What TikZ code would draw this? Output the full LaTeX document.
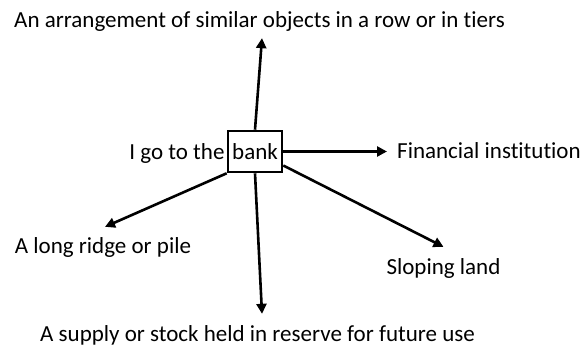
\documentclass[tikz,border=0pt]{standalone}
\usepackage{fontspec}
\setmainfont{Carlito}[Ligatures=NoCommon]
\usepackage{tikz}
\usetikzlibrary{positioning,arrows.meta,calc}

\begin{document}
\begin{tikzpicture}[x=1pt,y=1pt,
   font=\fontsize{23}{27}\selectfont,
   word/.style={draw,line width=2.6pt,minimum width=54pt,minimum height=41pt,inner sep=0pt},
   lbl/.style={inner sep=0pt},
   wire/.style={line width=2.6pt,-{Triangle[length=10pt,width=10pt]}},
]
\useasboundingbox (0,0) rectangle (581,347);
% ----- the sentence
\node[word] (bank) at (255,195.5) {bank};
\node[lbl,anchor=base east] (igo) at ([xshift=-2pt]bank.base -| bank.west) {I go to the};
% ----- senses
\node[lbl,anchor=base] (tiers) at (259.5,319) {An arrangement of similar objects in a row or in tiers};
\node[lbl,anchor=base west] (fin) at (397,188) {Financial institution};
\node[lbl,anchor=base] (ridge) at (103,93) {A long ridge or pile};
\node[lbl,anchor=base] (slope) at (443.5,72) {Sloping land};
\node[lbl,anchor=base] (supply) at (257.5,5) {A supply or stock held in reserve for future use};

% wires
\draw[wire] (bank.north) -- ([shift={(2.5pt,-6pt)}]tiers.south);
\draw[wire] (bank.east) -- ([xshift=-10pt]bank.east -| fin.west);
\draw[wire] (bank.south west) -- ([shift={(2pt,11pt)}]ridge.north);
\draw[wire] ([yshift=-14pt]bank.east) -- ([yshift=12pt]slope.north);
\draw[wire] (bank.south) -- ([shift={(4.5pt,12pt)}]supply.north);
\end{tikzpicture}
\end{document}
